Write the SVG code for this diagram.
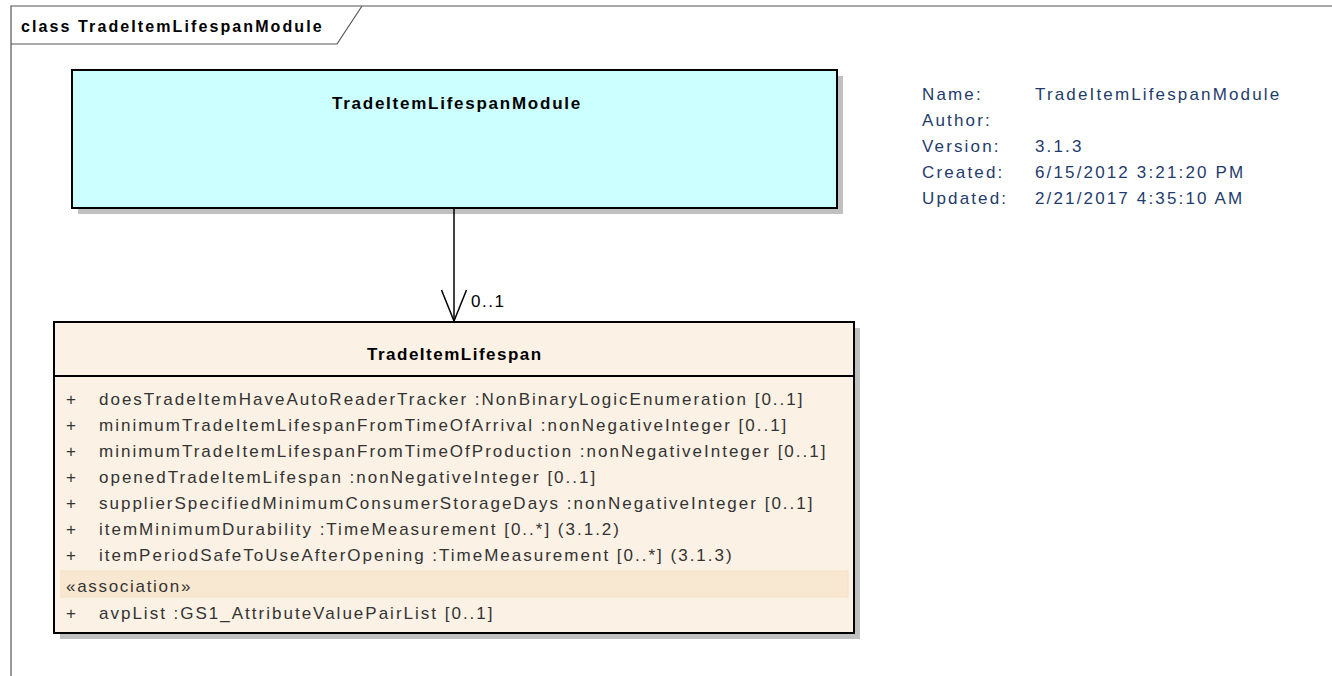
<svg xmlns="http://www.w3.org/2000/svg" width="1332" height="676" viewBox="0 0 1332 676">
<style>
text{font-family:"Liberation Sans",Arial,sans-serif;}
.t{font-size:17px;font-weight:bold;fill:#000;letter-spacing:1.6px;}
.a{font-size:17px;fill:#333;letter-spacing:2px;}
.m{font-size:17px;fill:#1F3C6C;letter-spacing:2.15px;}
.sh{fill:#C0C0C0;}
.box{stroke:#000;stroke-width:2;}
</style>
<rect x="0" y="0" width="1332" height="676" fill="#fff"/>
<g id="frame" fill="none" stroke="#555" stroke-width="1.2">
<path d="M11,676 V6 H1332"/>
<path d="M11,44 H337 L362,6"/>
<text x="21" y="32" style="font-size:16px;font-weight:bold;fill:#000;letter-spacing:2.1px;stroke:none">class TradeItemLifespanModule</text>
</g>
<g id="node-module">
<rect class="sh" x="78" y="76" width="765" height="138"/>
<rect class="box" x="72" y="70" width="765" height="138" fill="#CCFFFF"/>
<text class="t" x="332" y="109" style="letter-spacing:1.75px">TradeItemLifespanModule</text>
</g>
<g id="node-lifespan">
<rect class="sh" x="60" y="328" width="800" height="311"/>
<rect class="box" x="54" y="322" width="800" height="311" fill="#FBF1E4"/>
<line x1="54" y1="376" x2="854" y2="376" stroke="#000" stroke-width="2"/>
<text class="t" x="367" y="360" style="letter-spacing:1.5px">TradeItemLifespan</text>
<g class="a">
<text x="66" y="405">+</text><text x="99" y="405">doesTradeItemHaveAutoReaderTracker :NonBinaryLogicEnumeration [0..1]</text>
<text x="66" y="431">+</text><text x="99" y="431">minimumTradeItemLifespanFromTimeOfArrival :nonNegativeInteger [0..1]</text>
<text x="66" y="457">+</text><text x="99" y="457">minimumTradeItemLifespanFromTimeOfProduction :nonNegativeInteger [0..1]</text>
<text x="66" y="483">+</text><text x="99" y="483">openedTradeItemLifespan :nonNegativeInteger [0..1]</text>
<text x="66" y="509">+</text><text x="99" y="509">supplierSpecifiedMinimumConsumerStorageDays :nonNegativeInteger [0..1]</text>
<text x="66" y="535">+</text><text x="99" y="535">itemMinimumDurability :TimeMeasurement [0..*] (3.1.2)</text>
<text x="66" y="561">+</text><text x="99" y="561">itemPeriodSafeToUseAfterOpening :TimeMeasurement [0..*] (3.1.3)</text>
</g>
<rect x="61" y="571" width="787" height="26" fill="#F9E8D1" stroke="#F5E0C4" stroke-width="1"/>
<text class="a" x="66" y="592" style="letter-spacing:1.7px">«association»</text>
<text class="a" x="66" y="619">+</text><text class="a" x="99" y="619">avpList :GS1_AttributeValuePairList [0..1]</text>
</g>
<g id="connectors">
<line x1="454" y1="208" x2="454" y2="321" stroke="#000" stroke-width="1.5"/>
<polyline points="441.5,290 454,321 466.5,290" fill="none" stroke="#000" stroke-width="1.5"/>
<text class="a" x="471" y="307" style="fill:#000;letter-spacing:1.5px">0..1</text>
</g>
<g id="notes" class="m">
<text x="922" y="100">Name:</text><text x="1035" y="100">TradeItemLifespanModule</text>
<text x="922" y="126">Author:</text>
<text x="922" y="152">Version:</text><text x="1035" y="152">3.1.3</text>
<text x="922" y="178">Created:</text><text x="1035" y="178">6/15/2012 3:21:20 PM</text>
<text x="922" y="204">Updated:</text><text x="1035" y="204">2/21/2017 4:35:10 AM</text>
</g>
</svg>
